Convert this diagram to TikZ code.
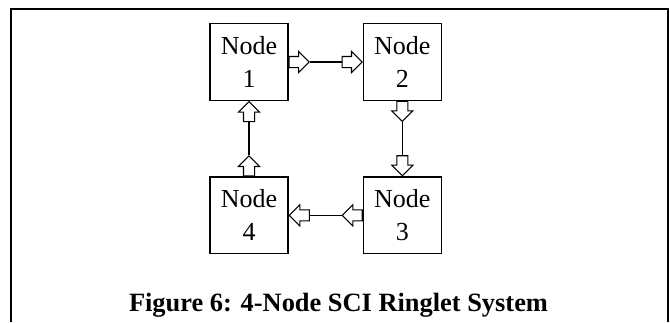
\documentclass[tikz,border=0pt]{standalone}
\usepackage{fontspec}
\setmainfont{Liberation Serif}
\usetikzlibrary{shapes.arrows, positioning}

\begin{document}
\begin{tikzpicture}[x=0.75pt,y=-0.75pt,node distance=115pt,
  ring node/.style={rectangle,draw,line width=0.8pt,minimum width=58.5pt,
    minimum height=57.5pt,inner sep=0pt,align=center,
    font=\fontsize{19.5}{24.75}\selectfont},
  flow arrow/.style={single arrow,draw,fill=white,line width=0.8pt,
    inner sep=3.75pt,minimum height=15pt,
    single arrow head extend=3.75pt}]

  \useasboundingbox (0,0) rectangle (670,322);
  \draw[line width=1.5pt] (11,322) -- (11,9) -- (668,9) -- (668,322);

  \node[ring node] (n1) at (249,62) {Node\\1};
  \node[ring node] (n2) [right of=n1] {Node\\2};
  \node[ring node] (n3) [below of=n2] {Node\\3};
  \node[ring node] (n4) [left of=n3] {Node\\4};

  % block arrows at both ends of each link
  \node[flow arrow,anchor=tail] (a1) at (n1.east) {};
  \node[flow arrow,anchor=tip] (b2) at (n2.west) {};
  \node[flow arrow,anchor=tail,shape border rotate=270] (a2) at (n2.south) {};
  \node[flow arrow,anchor=tip,shape border rotate=270] (b3) at (n3.north) {};
  \node[flow arrow,anchor=tail,shape border rotate=180] (a3) at (n3.west) {};
  \node[flow arrow,anchor=tip,shape border rotate=180] (b4) at (n4.east) {};
  \node[flow arrow,anchor=tail,shape border rotate=90] (a4) at (n4.north) {};
  \node[flow arrow,anchor=tip,shape border rotate=90] (b1) at (n1.south) {};

  \draw[line width=0.8pt] (a1.tip) -- (b2.tail);
  \draw[line width=0.8pt] (a2.tip) -- (b3.tail);
  \draw[line width=0.8pt] (a3.tip) -- (b4.tail);
  \draw[line width=0.8pt] (a4.tip) -- (b1.tail);

  \node[anchor=base,font=\bfseries\fontsize{19.8}{24}\selectfont] (caption)
    at (338.5,311) {Figure 6: 4-Node SCI Ringlet System};
\end{tikzpicture}
\end{document}
